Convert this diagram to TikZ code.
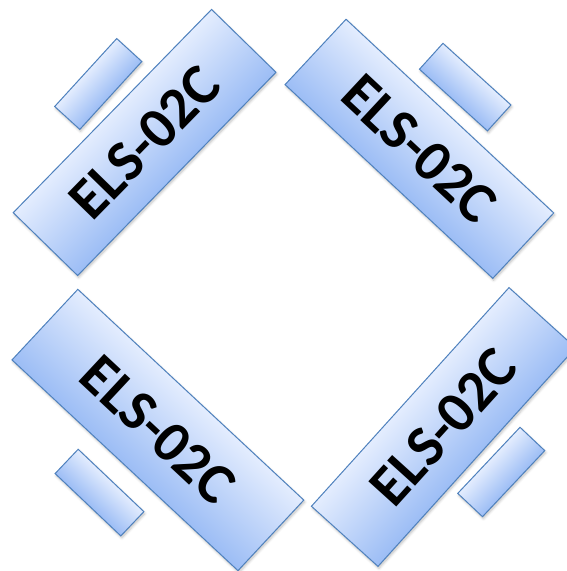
\documentclass[tikz,border=0pt]{standalone}
\usepackage{fontspec}
\setmainfont{Carlito}
\usetikzlibrary{shadows.blur}
\definecolor{edgeblue}{RGB}{79,129,189}
\definecolor{lightfill}{RGB}{228,237,254}
\definecolor{darkfill}{RGB}{156,189,245}
\tikzset{
  panel/.style={draw=edgeblue, line width=1pt, top color=lightfill, bottom color=darkfill,
    inner sep=0pt,
    blur shadow={shadow blur steps=6, shadow xshift={cos(#1)-2*sin(#1)}, shadow yshift={-sin(#1)-2*cos(#1)}, shadow opacity=25, shadow blur radius=2.5pt},
    font=\fontsize{58}{60}\selectfont\bfseries, text=black},
  bigpanel/.style={panel=#1},
  smallpanel/.style={panel=#1},
  placed/.style n args={3}{transform canvas={shift={(#1,#2)}, rotate=#3}}
}
\begin{document}
\begin{tikzpicture}[x=1pt,y=1pt]
\useasboundingbox (0,0) rectangle (567,571);
% small plates
\begin{scope}[placed={98.25}{487}{47.6}]
\node[smallpanel=47.6, minimum width=92pt, minimum height=34pt] (tls) at (0,0) {};
\end{scope}
\begin{scope}[placed={465.2}{483.9}{-42.2}]
\node[smallpanel=-42.2, minimum width=91.8pt, minimum height=35pt] (trs) at (0,0) {};
\end{scope}
\begin{scope}[placed={99.5}{78.4}{-43.5}]
\node[smallpanel=-43.5, minimum width=90.6pt, minimum height=33.5pt] (bls) at (0,0) {};
\end{scope}
\begin{scope}[placed={501.25}{99}{46.7}]
\node[smallpanel=46.7, minimum width=90.8pt, minimum height=34pt] (brs) at (0,0) {};
\end{scope}
% large plates
\begin{scope}[placed={144.6}{428.5}{45.7}]
\node[bigpanel=45.7, minimum width=284pt, minimum height=90pt] (tl) at (0,0) {ELS-02C};
\end{scope}
\begin{scope}[placed={419.4}{422.2}{-43}]
\node[bigpanel=-43, minimum width=284pt, minimum height=89.4pt] (tr) at (0,0) {ELS-02C};
\end{scope}
\begin{scope}[placed={157.9}{141}{-43}]
\node[bigpanel=-43, minimum width=309pt, minimum height=96.5pt] (bl) at (0,0) {ELS-02C};
\end{scope}
\begin{scope}[placed={443.5}{144}{47.9}]
\node[bigpanel=47.9, minimum width=294.7pt, minimum height=89.7pt] (br) at (0,0) {ELS-02C};
\end{scope}
\end{tikzpicture}
\end{document}
